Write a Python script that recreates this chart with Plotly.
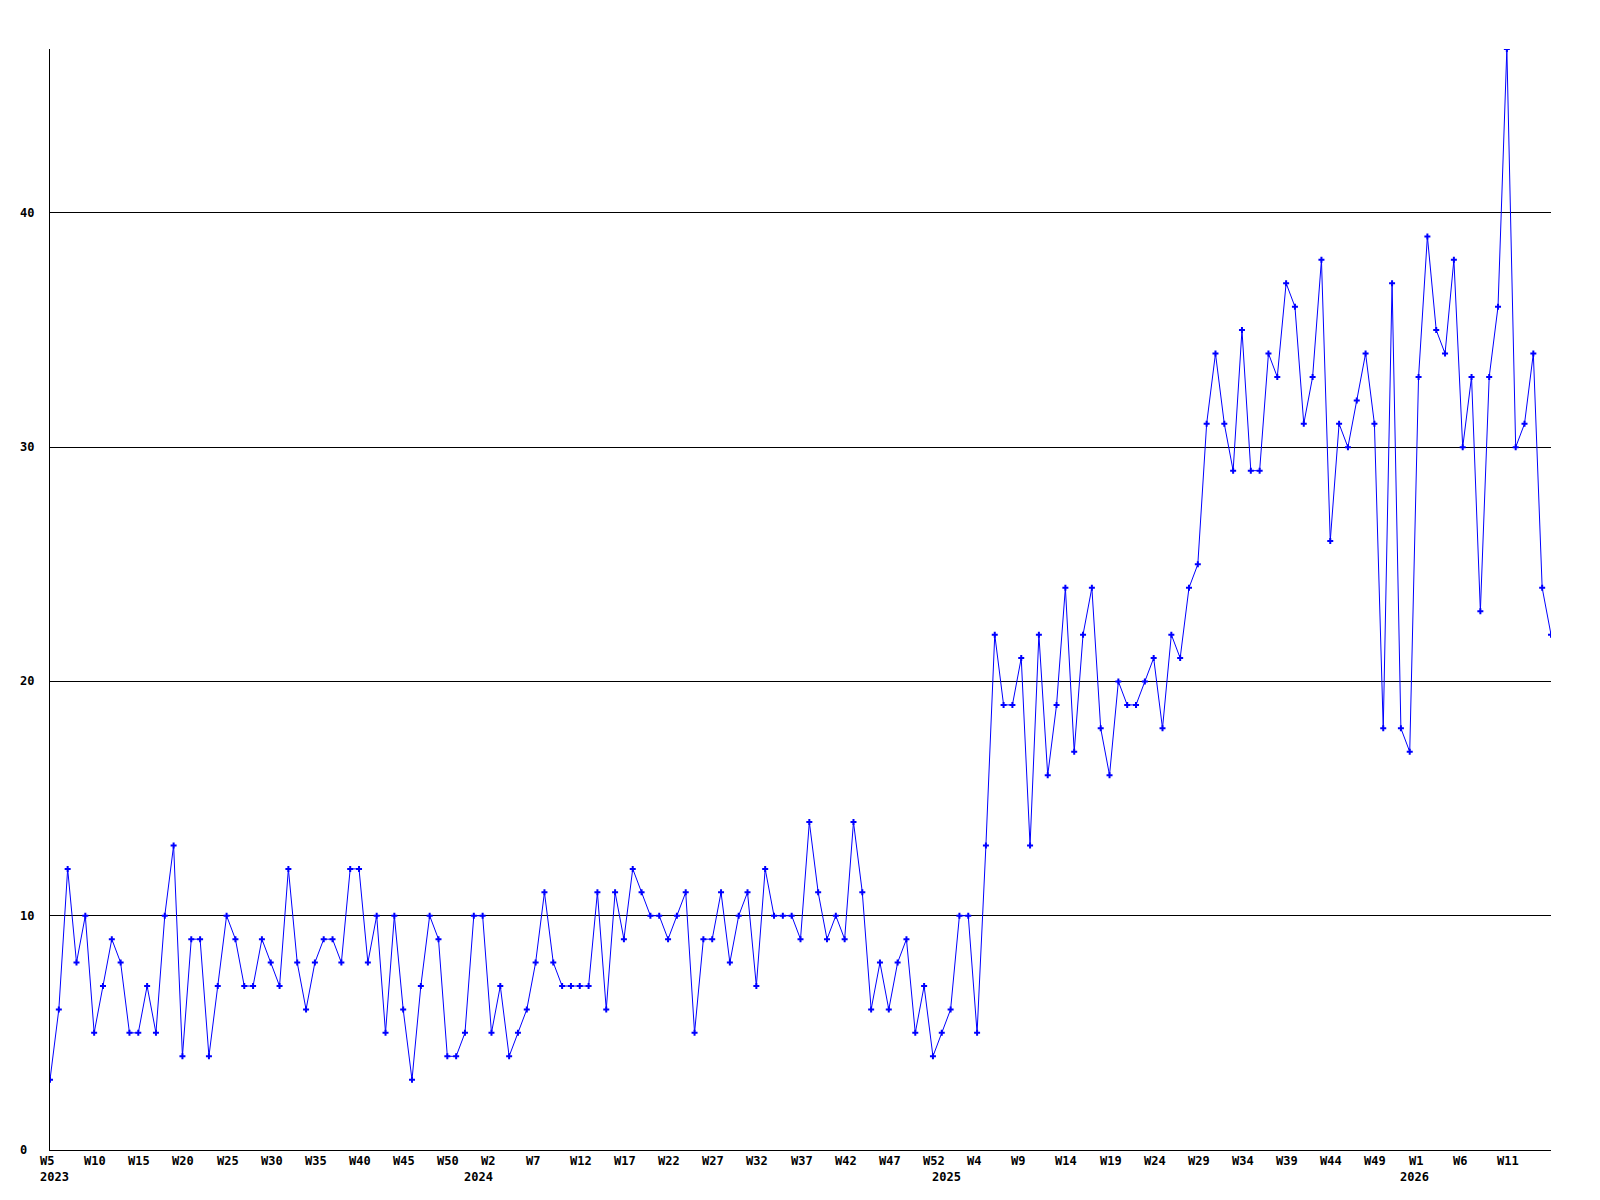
import plotly.graph_objects as go

# ---- data (weekly counts) ----
years = ["2023", "2024", "2025", "2026"]
first_week = [5, 0, 0, 0]

counts_2023 = [3, 6, 12, 8, 10, 5, 7, 9, 8, 5,
               5, 7, 5, 10, 13, 4, 9, 9, 4, 7,
               10, 9, 7, 7, 9, 8, 7, 12, 8, 6,
               8, 9, 9, 8, 12, 12, 8, 10, 5, 10,
               6, 3, 7, 10, 9, 4, 4, 5]
counts_2024 = [10, 10,
               5, 7, 4, 5, 6, 8, 11, 8, 7, 7,
               7, 7, 11, 6, 11, 9, 12, 11, 10, 10,
               9, 10, 11, 5, 9, 9, 11, 8, 10, 11,
               7, 12, 10, 10, 10, 9, 14, 11, 9, 10,
               9, 14, 11, 6, 8, 6, 8, 9, 5, 7,
               4]
counts_2025 = [5, 6, 10, 10, 5, 13, 22, 19, 19,
               21, 13, 22, 16, 19, 24, 17, 22, 24, 18,
               16, 20, 19, 19, 20, 21, 18, 22, 21, 24,
               25, 31, 34, 31, 29, 35, 29, 29, 34, 33,
               37, 36, 31, 33, 38, 26, 31, 30, 32, 34,
               31, 18, 37, 18]
counts_2026 = [17, 33, 39, 35, 34, 38,
               30, 33, 23, 33, 36, 47, 30, 31, 34, 24,
               22]
series = [counts_2023, counts_2024, counts_2025, counts_2026]

y_ticks = [0, 10, 20, 30, 40]
label_step = 5

# ---- build categories ----
cats, vals, week_names, year_first = [], [], [], []
for yr, fw, arr in zip(years, first_week, series):
    year_first.append((f"{yr}-W{fw:02d}", yr))
    for i, v in enumerate(arr):
        w = fw + i
        cats.append(f"{yr}-W{w:02d}")
        week_names.append(f"W{w}")
        vals.append(v)

font_lbl = dict(family="DejaVu Sans Mono", size=12, color="black", weight="bold")

fig = go.Figure()
fig.add_trace(go.Scatter(
    x=cats, y=vals, mode="lines+markers",
    line=dict(color="#0000ff", width=1),
    marker=dict(symbol="cross", size=5, color="#0000ff", line=dict(width=0)),
    showlegend=False, hoverinfo="x+y",
))

annotations = []
for i in range(0, len(cats) - 1, label_step):
    annotations.append(dict(
        x=cats[i], y=0, xref="x", yref="paper", text=week_names[i],
        showarrow=False, xanchor="left", yanchor="middle",
        xshift=-12, yshift=-11, font=font_lbl,
    ))
for c, yr in year_first:
    annotations.append(dict(
        x=c, y=0, xref="x", yref="paper", text=yr,
        showarrow=False, xanchor="left", yanchor="middle",
        xshift=-12, yshift=-27, font=font_lbl,
    ))
for t in y_ticks:
    annotations.append(dict(
        x=0, y=t, xref="paper", yref="y", text=str(t),
        showarrow=False, xanchor="left", yanchor="middle",
        xshift=-32, font=font_lbl,
    ))

fig.update_layout(
    width=1600, height=1200,
    margin=dict(l=42, r=57, t=41, b=58),
    paper_bgcolor="white", plot_bgcolor="white",
    font=font_lbl,
    annotations=annotations,
    xaxis=dict(type="category", range=[0, len(cats) - 1],
               showgrid=False, zeroline=False, showline=True,
               linecolor="black", linewidth=1, showticklabels=False, ticks=""),
    yaxis=dict(range=[0, max(vals)], tickvals=y_ticks,
               showgrid=True, gridcolor="black", gridwidth=1,
               zeroline=False, showline=True, linecolor="black", linewidth=1,
               showticklabels=False, ticks=""),
)

fig.write_html("out.html")
